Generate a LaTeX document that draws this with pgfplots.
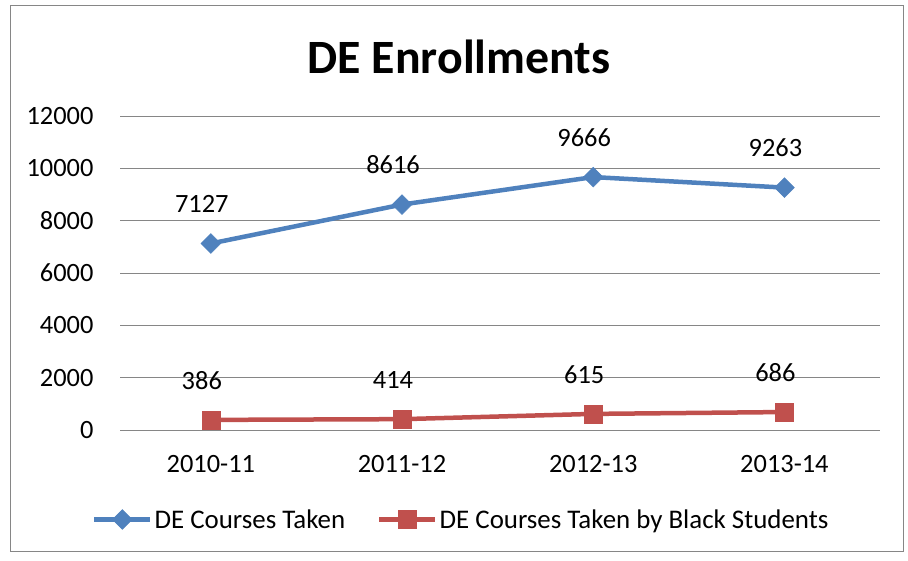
\documentclass[border=0pt]{standalone}
\usepackage{fontspec}
\setmainfont{Carlito}
\usepackage{pgfplots}
\pgfplotsset{compat=1.18}
\definecolor{sblue}{HTML}{4F81BD}
\definecolor{sred}{HTML}{C0504D}
\definecolor{gridgray}{HTML}{868686}
\begin{document}
\begin{tikzpicture}[x=1bp,y=1bp]
\path (0,0) rectangle (908,561);
\draw[line width=1bp, gridgray] (10,9) rectangle (903,555);
\node[font=\fontsize{48}{56}\selectfont\bfseries] at (459,504) {DE Enrollments};
\begin{axis}[
  at={(120bp,131bp)}, anchor=south west,
  scale only axis, width=760bp, height=314bp,
  xmin=-0.475, xmax=3.5, ymin=0, ymax=12000,
  xtick={0,1,2,3}, xticklabels={2010-11,2011-12,2012-13,2013-14},
  ytick={0,2000,...,12000},
  scaled ticks=false,
  /pgf/number format/assume math mode=true,
  /pgf/number format/1000 sep={},
  ymajorgrids, grid style={gridgray, line width=0.9bp},
  axis line style={draw=none},
  major tick length=0pt,
  tick label style={font=\fontsize{26.5}{31}\selectfont},
  xticklabel style={yshift=-22bp},
  yticklabel style={xshift=-23bp},
  clip=false,
  legend style={at={(0.449,-0.285)}, anchor=center, draw=none, legend columns=2,
    font=\fontsize{27}{32}\selectfont, inner sep=0pt,
    /tikz/every even column/.append style={column sep=30bp}},
  legend image code/.code={
    \draw[#1, mark repeat=2, mark phase=2] plot coordinates {(0bp,0bp) (28bp,0bp) (56bp,0bp)};},
  nodes near coords, every node near coord/.append style={font=\fontsize{26.5}{31}\selectfont, black, yshift=27bp, xshift=-9bp},
]
\draw[gridgray, line width=0.9bp] (axis cs:-0.475,0) -- (axis cs:3.5,0);
\addplot[sblue, line width=4.5bp, mark=square*, mark size=7bp, mark options={rotate=45, line width=0.5bp}] coordinates {(0,7127) (1,8616) (2,9666) (3,9263)};
\addlegendentry{DE Courses Taken}
\addplot[sred, line width=4.5bp, mark=square*, mark size=9bp, mark options={line width=0.5bp}] coordinates {(0,386) (1,414) (2,615) (3,686)};
\addlegendentry{DE Courses Taken by Black Students}
\end{axis}
\end{tikzpicture}
\end{document}
